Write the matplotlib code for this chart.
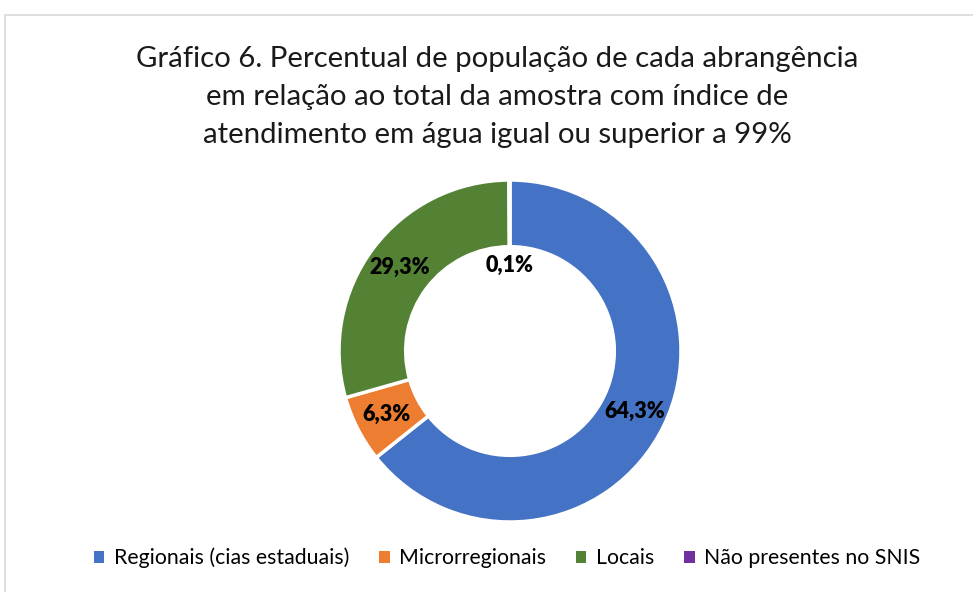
import matplotlib.pyplot as plt
from matplotlib.patches import Rectangle, Patch
import numpy as np

# Data
categories = ['Regionais (cias estaduais)', 'Microrregionais', 'Locais', 'Não presentes no SNIS']
values = [64.3, 6.3, 29.3, 0.1]
colors = ['#4472C4', '#ED7D31', '#548235', '#7030A0']
labels = ['64,3%', '6,3%', '29,3%', '0,1%']

plt.rcParams['font.family'] = ['Lato', 'DejaVu Sans']

W, H = 973, 592
fig = plt.figure(figsize=(W / 100, H / 100), dpi=100)

# light chart border
fig.patches.append(Rectangle((5 / W, -0.1), 1.2, 1 - 15 / H + 0.1, transform=fig.transFigure,
                             fill=False, edgecolor='#D9D9D9', linewidth=1.2))

fig.text(497 / W, 1 - 97 / H,
         'Gráfico 6. Percentual de população de cada abrangência\n'
         'em relação ao total da amostra com índice de\n'
         'atendimento em água igual ou superior a 99%',
         ha='center', va='center', fontsize=21.2, color='#1a1a1a', linespacing=1.58)

# donut axes: centre (510, 351), radius 171 px
cx, cy, r = 510, 351, 171
ax = fig.add_axes([(cx - r) / W, (H - cy - r) / H, 2 * r / W, 2 * r / H])
wedges, texts = ax.pie(values, colors=colors, startangle=90, counterclock=False,
                       radius=1, wedgeprops=dict(width=0.39, edgecolor='white', linewidth=2.5))
for w in wedges:
    w.set_clip_on(False)

acc = 0
for v, lab in zip(values, labels):
    mid = np.deg2rad(90 - (acc + v / 2) * 3.6)
    acc += v
    rr = 0.5 if v < 1 else 0.81
    ax.text(rr * np.cos(mid), rr * np.sin(mid), lab, ha='center', va='center',
            fontsize=15.5, fontweight='heavy', color='black')

ax.set_xlim(-1, 1)
ax.set_ylim(-1, 1)
ax.set_aspect('equal')
ax.axis('off')

handles = [Patch(facecolor=c, edgecolor='none') for c in colors]
fig.legend(handles, categories, loc='center', bbox_to_anchor=(507 / W, 1 - 558 / H), ncol=4,
           frameon=False, fontsize=15.3, handlelength=0.5, handleheight=0.5,
           handletextpad=0.45, columnspacing=1.4)

fig.savefig('out.png', dpi=100)
